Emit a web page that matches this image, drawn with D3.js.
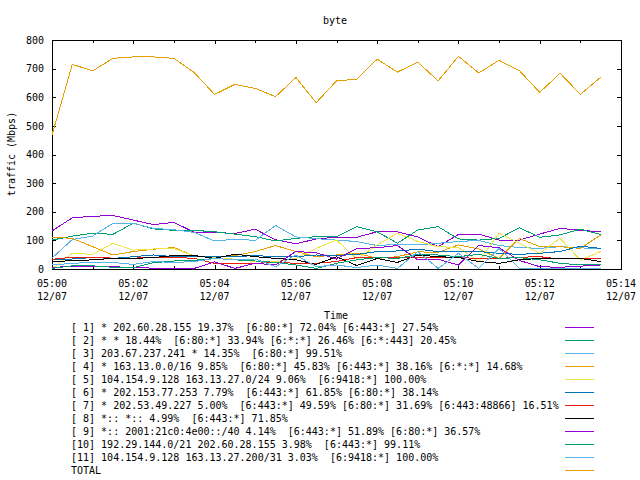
<!DOCTYPE html>
<html>
<head>
<meta charset="utf-8">
<script src="https://cdn.jsdelivr.net/npm/d3@7/dist/d3.min.js"></script>
<style>
  html, body { margin: 0; padding: 0; background: #fff; }
  svg { display: block; }
  text { font-family: "DejaVu Sans Mono", "Liberation Mono", monospace; font-size: 10px; fill: #000; }
</style>
</head>
<body>
<svg id="chart" width="640" height="480"></svg>
<script>
// ---------------- data ----------------
const chartTitle = "byte";
const xLabel = "Time";
const yLabel = "traffic (Mbps)";
const dateLabel = "12/07";

const times = ["05:00:00","05:00:30","05:01:00","05:01:30","05:02:00","05:02:30","05:03:00","05:03:30",
               "05:04:00","05:04:30","05:05:00","05:05:30","05:06:00","05:06:30","05:07:00","05:07:30",
               "05:08:00","05:08:30","05:09:00","05:09:30","05:10:00","05:10:30","05:11:00","05:11:30",
               "05:12:00","05:12:30","05:13:00","05:13:30"];

const xTickTimes  = ["05:00","05:01","05:02","05:03","05:04","05:05","05:06","05:07",
                     "05:08","05:09","05:10","05:11","05:12","05:13","05:14"];
const xTickLabels = ["05:00","05:02","05:04","05:06","05:08","05:10","05:12","05:14"];
const yTicks = [0, 100, 200, 300, 400, 500, 600, 700, 800];

const labels = [
  "[ 1] * 202.60.28.155 19.37%  [6:80:*] 72.04% [6:443:*] 27.54%",
  "[ 2] * * 18.44%  [6:80:*] 33.94% [6:*:*] 26.46% [6:*:443] 20.45%",
  "[ 3] 203.67.237.241 * 14.35%  [6:80:*] 99.51%",
  "[ 4] * 163.13.0.0/16 9.85%  [6:80:*] 45.83% [6:443:*] 38.16% [6:*:*] 14.68%",
  "[ 5] 104.154.9.128 163.13.27.0/24 9.06%  [6:9418:*] 100.00%",
  "[ 6] * 202.153.77.253 7.79%  [6:443:*] 61.85% [6:80:*] 38.14%",
  "[ 7] * 202.53.49.227 5.00%  [6:443:*] 49.59% [6:80:*] 31.69% [6:443:48866] 16.51%",
  "[ 8] *:: *:: 4.99%  [6:443:*] 71.85%",
  "[ 9] *:: 2001:21c0:4e00::/40 4.14%  [6:443:*] 51.89% [6:80:*] 36.57%",
  "[10] 192.29.144.0/21 202.60.28.155 3.98%  [6:443:*] 99.11%",
  "[11] 104.154.9.128 163.13.27.200/31 3.03%  [6:9418:*] 100.00%",
  "TOTAL"
];

const colors = ["#9400d3","#009e73","#56b4e9","#e69f00","#f0e442","#0072b2",
                "#e51e10","#000000","#9400d3","#009e73","#56b4e9","#e69f00"];

const s1  = [133,179,184,187,171,155,163,128,128,124,139,102,88,105,111,111,130,130,112,78,121,122,101,101,122,142,135,130];
const s2  = [101,115,125,121,160,140,135,135,130,122,113,98,107,113,113,148,130,90,136,148,105,101,107,144,111,119,139,121];
const s3  = [38,103,115,160,160,142,137,128,98,104,100,152,112,106,101,96,82,86,84,90,96,100,82,75,72,78,74,70];
const s4  = [111,107,78,49,61,69,75,45,43,47,61,82,61,43,49,55,37,43,60,58,84,70,37,107,78,78,72,119];
const s5  = [0,55,51,90,66,70,72,45,40,34,26,26,37,72,101,35,84,125,96,78,75,26,125,90,55,107,31,61];
const s6  = [32,35,40,37,43,49,43,43,43,43,47,43,43,49,47,51,61,63,69,61,61,61,55,51,55,61,80,72];
const s7  = [34,41,41,38,38,40,41,37,20,20,20,23,20,20,26,40,40,41,40,40,40,37,37,41,43,35,37,35];
const s8  = [26,29,32,37,37,40,47,47,37,52,43,37,32,16,43,12,37,23,49,43,40,26,20,32,37,37,37,26];
const s9  = [5,10,10,8,5,3,2,2,25,2,20,14,61,57,35,72,74,82,32,34,14,82,74,30,8,6,10,14];
const s10 = [2,11,11,6,5,22,28,30,37,32,28,23,14,2,20,32,40,37,51,49,43,51,37,40,32,20,14,16];
const s11 = [14,20,23,23,16,26,23,26,37,32,35,8,49,8,14,5,14,2,61,2,55,2,72,2,2,2,2,2];
const total = [468,715,692,736,741,741,736,686,610,645,631,602,669,581,657,663,733,688,723,657,743,685,729,693,617,684,610,670];

const seriesList = [s1, s2, s3, s4, s5, s6, s7, s8, s9, s10, s11, total];

// ---------------- layout ----------------
const svg = d3.select("#chart");
const L = 52, R = 621, T = 40, B = 269;
const parseT = d3.utcParse("%H:%M:%S");
const parseM = d3.utcParse("%H:%M");
const fmtM = d3.utcFormat("%H:%M");

const x = d3.scaleUtc().domain([parseM("05:00"), parseM("05:14")]).range([L, R]);
const y = d3.scaleLinear().domain([0, 800]).range([B, T]);

// title
svg.append("text").attr("x", 335).attr("y", 23.5).attr("text-anchor", "middle").text(chartTitle);

// y axes (left with labels, right mirror)
svg.append("g").attr("transform", `translate(${L},0)`)
  .call(d3.axisLeft(y).tickValues(yTicks).tickSize(-4).tickPadding(8).tickFormat(d3.format("d")));
svg.append("g").attr("transform", `translate(${R},0)`)
  .call(d3.axisRight(y).tickValues(yTicks).tickSize(-4).tickFormat(""));

// x axes: major/minor ticks
const tickDates = xTickTimes.map(parseM);
const labelSet = new Set(xTickLabels);
const majorDates = tickDates.filter(d => labelSet.has(fmtM(d)));
const minorDates = tickDates.filter(d => !labelSet.has(fmtM(d)));

svg.append("g").attr("transform", `translate(0,${B})`)
  .call(d3.axisBottom(x).tickValues(majorDates).tickSize(-4).tickFormat(""));
svg.append("g").attr("transform", `translate(0,${B})`)
  .call(d3.axisBottom(x).tickValues(minorDates).tickSize(-3).tickFormat(""));
svg.append("g").attr("transform", `translate(0,${T})`)
  .call(d3.axisTop(x).tickValues(majorDates).tickSize(-4).tickFormat(""));
svg.append("g").attr("transform", `translate(0,${T})`)
  .call(d3.axisTop(x).tickValues(minorDates).tickSize(-3).tickFormat(""));

svg.selectAll(".domain").remove();
svg.selectAll(".tick line").attr("stroke", "#000").attr("shape-rendering", "crispEdges");
svg.selectAll(".tick text").style("font-family", "DejaVu Sans Mono, Liberation Mono, monospace").style("font-size", "10px");

// two-line x tick labels
const xl = svg.append("g");
majorDates.forEach(d => {
  const t = xl.append("text").attr("text-anchor", "middle").attr("x", x(d));
  t.append("tspan").attr("x", x(d)).attr("y", 287).text(fmtM(d));
  t.append("tspan").attr("x", x(d)).attr("y", 300).text(dateLabel);
});

// border
svg.append("rect").attr("x", L + 0.5).attr("y", T + 0.5).attr("width", R - L).attr("height", B - T)
  .attr("fill", "none").attr("stroke", "#000").attr("stroke-width", 1).attr("shape-rendering", "crispEdges");

// axis labels
svg.append("text").attr("x", 336).attr("y", 318.5).attr("text-anchor", "middle").text(xLabel);
svg.append("text").attr("transform", "translate(15,154) rotate(-90)").attr("text-anchor", "middle").text(yLabel);

// lines
const dates = times.map(parseT);
const line = d3.line().x((d, i) => x(dates[i])).y(d => y(d));
const plot = svg.append("g");
seriesList.forEach((s, k) => {
  plot.append("path").datum(s).attr("d", line)
    .attr("fill", "none").attr("stroke", colors[k]).attr("stroke-width", 1)
    .attr("shape-rendering", "crispEdges");
});

// legend
const lg = svg.append("g");
labels.forEach((lab, k) => {
  const cy = 327 + 13 * k;
  lg.append("text").attr("x", 71).attr("y", cy + 3.5).attr("xml:space", "preserve").style("white-space", "pre").text(lab);
  lg.append("line").attr("x1", 565).attr("x2", 594).attr("y1", cy + 0.5).attr("y2", cy + 0.5)
    .attr("stroke", colors[k]).attr("stroke-width", 1).attr("shape-rendering", "crispEdges");
});
</script>
</body>
</html>
